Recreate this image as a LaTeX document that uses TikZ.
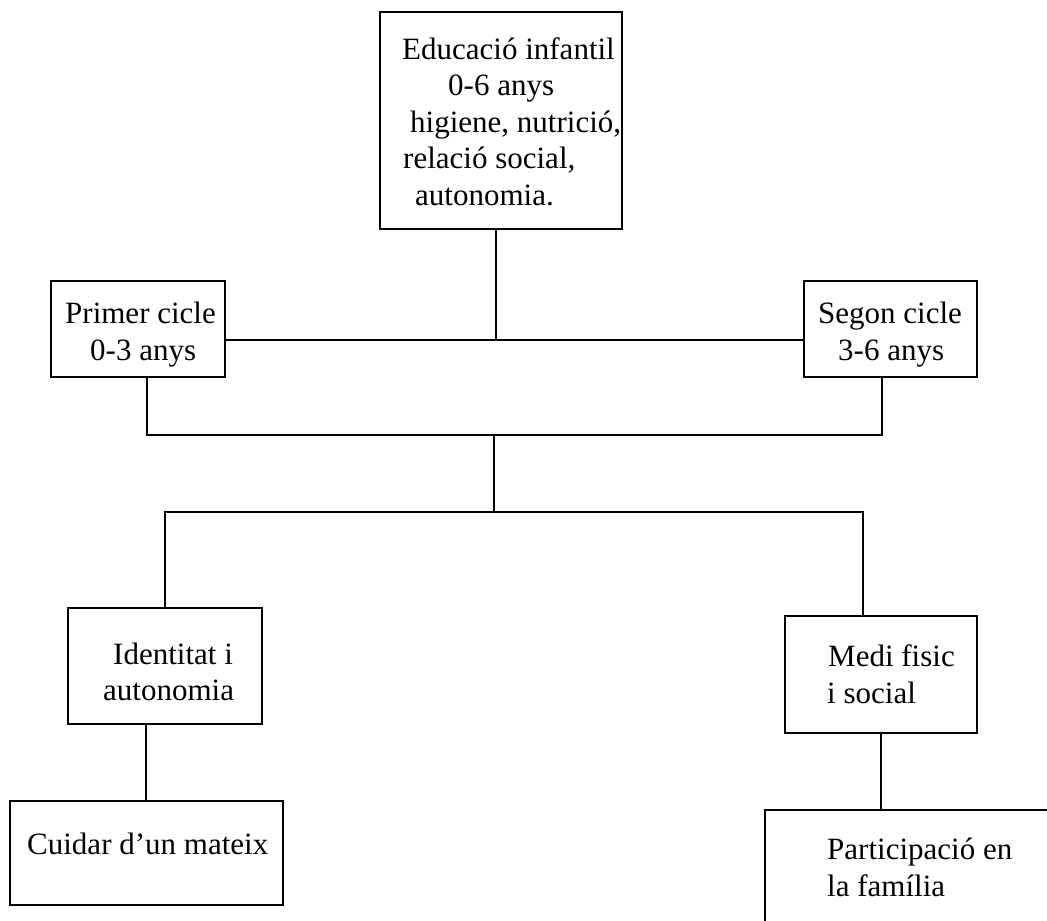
\documentclass[tikz,border=0pt]{standalone}
\usepackage{fontspec}
\setmainfont{Liberation Serif}
\begin{document}
\begin{tikzpicture}[x=1pt,y=-1pt,
  box/.style={draw, line width=2pt, inner sep=0pt},
  conn/.style={line width=2pt},
  txt/.style={anchor=base west, inner sep=0pt, font=\fontsize{31}{36}\selectfont}]
\path[use as bounding box, fill=white] (0,0) rectangle (1047,921);
\begin{scope}
\clip (0,0) rectangle (1047,921);
% boxes
\node[box, minimum width=242pt, minimum height=217pt] (top) at (501,120.5) {};
\node[box, minimum width=174pt, minimum height=96pt] (primer) at (138,329) {};
\node[box, minimum width=173pt, minimum height=96pt] (segon) at (890.5,329) {};
\node[box, minimum width=194pt, minimum height=116pt] (ident) at (165,666) {};
\node[box, minimum width=192pt, minimum height=117pt] (medi) at (881,674.5) {};
\node[box, minimum width=273pt, minimum height=104pt] (cuidar) at (146,853) {};
\node[box, minimum width=325pt, minimum height=150pt] (partic) at (927.5,885) {};
% texts
\node[txt] (t1) at (402,59) {Educació infantil};
\node[txt] (t2) at (448,95.5) {0-6 anys};
\node[txt] (t3) at (410,132) {higiene, nutrició,};
\node[txt] (t4) at (403,168.5) {relació social,};
\node[txt] (t5) at (415,205) {autonomia.};
\node[txt] (p1) at (65,323) {Primer cicle};
\node[txt] (p2) at (90,360) {0-3 anys};
\node[txt] (s1) at (818,323) {Segon cicle};
\node[txt] (s2) at (838,360) {3-6 anys};
\node[txt] (i1) at (113,664) {Identitat i};
\node[txt] (i2) at (103,700) {autonomia};
\node[txt] (c1) at (27,854) {Cuidar d’un mateix};
\node[txt] (m1) at (828,666) {Medi fisic};
\node[txt] (m2) at (827,703) {i social};
\node[txt] (q1) at (827,859) {Participació en};
\node[txt] (q2) at (827,896) {la família};
% junctions
\coordinate (jTop) at (496,340);
\coordinate (jMid) at (494,435);
\coordinate (jLow) at (494,512);
% connectors
\draw[conn] (top.south -| jTop) -- (jTop);
\draw[conn] (primer.east |- jTop) -- (segon.west |- jTop);
\draw[conn] ([xshift=9pt]primer.south) |- (jMid) -| ([xshift=-8.5pt]segon.south);
\draw[conn] (jMid) -- (jLow);
\draw[conn] (ident.north) |- (jLow) -| ([xshift=-18pt]medi.north);
\draw[conn] (cuidar.north |- ident.south) -- (cuidar.north);
\draw[conn] (medi.south) -- (partic.north -| medi.south);
\end{scope}
\end{tikzpicture}
\end{document}
